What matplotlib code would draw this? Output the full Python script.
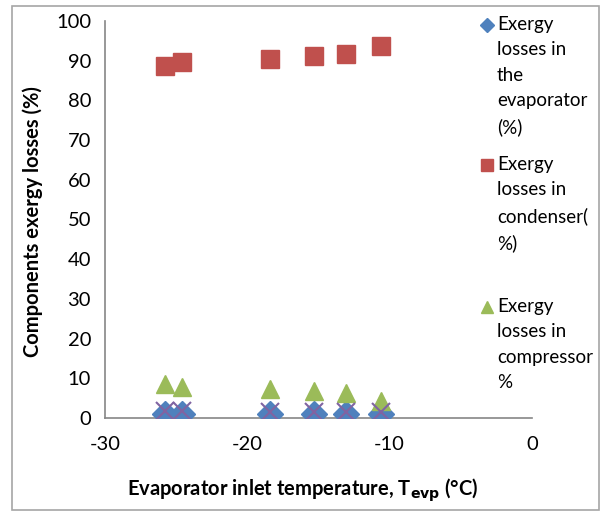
import matplotlib.pyplot as plt
from matplotlib.lines import Line2D
from matplotlib.patches import Rectangle

# evaporator inlet temperature (deg C)
t_evp = [-25.8, -24.6, -18.4, -15.3, -13.1, -10.6]

# component exergy losses (%)
evaporator = [1.0, 1.0, 1.0, 1.0, 0.9, 0.9]
condenser = [88.7, 89.6, 90.4, 91.1, 91.7, 93.7]
compressor = [8.6, 7.7, 7.3, 6.7, 6.3, 4.4]
other = [1.7, 1.7, 1.6, 1.6, 1.5, 1.5]

legend_labels = [
    "Exergy\nlosses in\nthe\nevaporator\n(%)",
    "Exergy\nlosses in\ncondenser(\n%)",
    "Exergy\nlosses in\ncompressor\n%",
]

plt.rcParams['font.family'] = ['Lato', 'DejaVu Sans']
plt.rcParams['axes.unicode_minus'] = False

W, H = 608, 512
fig = plt.figure(figsize=(W / 100, H / 100), dpi=100)
ax = fig.add_axes([105 / W, 1 - 418 / H, (532 - 105) / W, (418 - 21) / H])

blue = '#4F81BD'
red = '#C0504D'
green = '#9BBB59'
purple = '#8064A2'

ax.plot(t_evp, evaporator, linestyle='', marker='D', markersize=13, color=blue, zorder=3)
ax.plot(t_evp, condenser, linestyle='', marker='s', markersize=13, color=red, zorder=3)
ax.plot(t_evp, compressor, linestyle='', marker='^', markersize=13, color=green, zorder=3)
ax.plot(t_evp, other, linestyle='', marker='x', markersize=13, markeredgewidth=1.5,
        color=purple, zorder=4)

ax.set_xlim(-30, 0)
ax.set_ylim(0, 100)
ax.set_xticks([-30, -20, -10, 0])
ax.set_yticks(range(0, 101, 10))
ax.tick_params(length=0, labelsize=14.5, pad=13)
ax.tick_params(axis='y', pad=10)
for side in ['top', 'right']:
    ax.spines[side].set_visible(False)
for side in ['left', 'bottom']:
    ax.spines[side].set_color('#868686')
    ax.spines[side].set_linewidth(1.2)

fig.text(33 / W, 1 - 222 / H, 'Components exergy losses (%)', rotation=90,
         fontsize=14.5, fontweight='bold', ha='center', va='center')
fig.text(303 / W, 1 - 490 / H, r'Evaporator inlet temperature, T$_{\mathbf{evp}}$ (°C)',
         fontsize=14.5, fontweight='bold', ha='center', va='center')

# legend drawn by hand (excel style, marker at first line)
leg_marker = ['D', 's', '^']
leg_color = [blue, red, green]
leg_size = [7, 9, 9]
leg_top = [25, 165, 307]
for lab, mk, c, ms, y in zip(legend_labels, leg_marker, leg_color, leg_size, leg_top):
    fig.add_artist(Line2D([487 / W], [1 - y / H], marker=mk, color=c, markersize=ms,
                          linestyle='', transform=fig.transFigure))
    fig.text(497 / W, 1 - (y - 9) / H, lab, fontsize=13.5, ha='left', va='top',
             linespacing=1.6)

fig.add_artist(Rectangle((12 / W, 1 - 510 / H), (599 - 12) / W, (510 - 6) / H,
                         transform=fig.transFigure, fill=False, edgecolor='#A6A6A6',
                         linewidth=1.2))

fig.savefig('out.png', dpi=100)
